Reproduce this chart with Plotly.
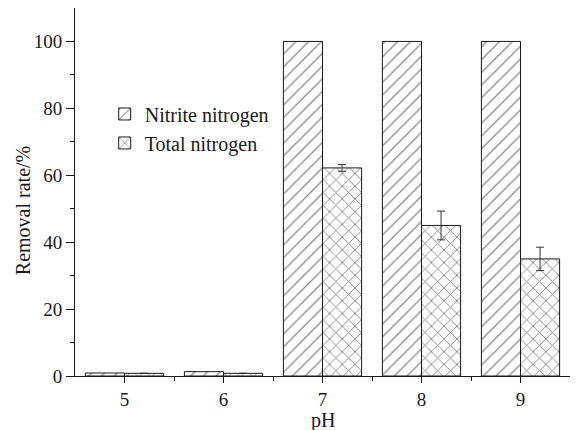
import plotly.graph_objects as go

ph = [5, 6, 7, 8, 9]
nitrite = [0.9, 1.3, 100, 100, 100]
total = [0.8, 0.8, 62.2, 45.0, 35.0]
total_err = [0, 0, 1.0, 4.3, 3.5]

FONT = "Liberation Serif"
INK = "#1a1a1a"

fig = go.Figure()
fig.add_trace(go.Bar(
    x=ph, y=nitrite, name="Nitrite nitrogen",
    marker=dict(color="white", line=dict(color=INK, width=1),
                pattern=dict(shape="/", fgcolor="#111", bgcolor="white", size=9, solidity=0.14)),
))
fig.add_trace(go.Bar(
    x=ph, y=total, name="Total nitrogen",
    marker=dict(color="white", line=dict(color=INK, width=1),
                pattern=dict(shape="x", fgcolor="#111", bgcolor="white", size=9, solidity=0.2)),
    error_y=dict(type="data", array=total_err, color="#333", thickness=1, width=4),
))

fig.update_layout(
    width=578, height=430,
    margin=dict(l=75, r=8, t=8, b=54),
    paper_bgcolor="white", plot_bgcolor="white",
    barmode="group", bargap=0.21, bargroupgap=0,
    font=dict(family=FONT, size=20, color=INK),
    legend=dict(x=0.06, y=0.765, xanchor="left", yanchor="top",
                bgcolor="rgba(0,0,0,0)", font=dict(family=FONT, size=20, color=INK),
                itemwidth=30, tracegroupgap=0),
    xaxis=dict(range=[4.5, 9.5], tickvals=ph, ticktext=[str(v) for v in ph],
               automargin=False,
               showline=True, linecolor=INK, linewidth=1, ticks="outside",
               ticklen=6, tickcolor=INK, showgrid=False, zeroline=False,
               tickfont=dict(family=FONT, size=19, color=INK),
               minor=dict(tickvals=[5.5, 6.5, 7.5, 8.5], ticks="outside", ticklen=4, tickcolor=INK)),
    yaxis=dict(range=[0, 110], tickvals=[0, 20, 40, 60, 80, 100],
               automargin=False,
               showline=True, linecolor=INK, linewidth=1, ticks="outside",
               ticklen=8, tickcolor=INK, showgrid=False, zeroline=False,
               tickfont=dict(family=FONT, size=19, color=INK),
               minor=dict(tickvals=[10, 30, 50, 70, 90], ticks="outside", ticklen=4, tickcolor=INK)),
    annotations=[
        dict(text="Removal rate/%", textangle=-90, xref="paper", yref="paper",
             x=-0.105, y=0.448, xanchor="center", yanchor="middle",
             showarrow=False, font=dict(family=FONT, size=20, color=INK)),
        dict(text="pH", xref="paper", yref="paper",
             x=0.5, y=-0.122, xanchor="center", yanchor="middle",
             showarrow=False, font=dict(family=FONT, size=20, color=INK)),
    ],
)

fig.write_html("out.html")
